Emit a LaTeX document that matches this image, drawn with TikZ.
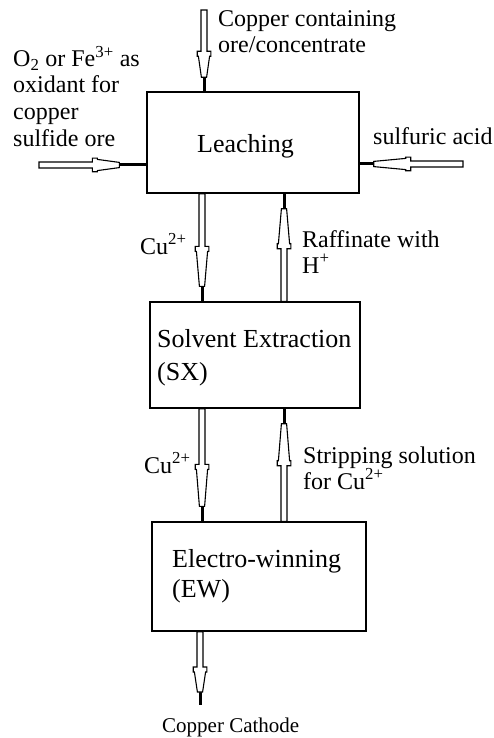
\documentclass[tikz,border=0pt]{standalone}
\usepackage{fontspec}
\setmainfont{Liberation Serif}
\usetikzlibrary{calc}
\tikzset{
  box/.style={draw, line width=1.4pt, inner sep=0pt, fill=white},
  lbl/.style={anchor=base west, inner sep=0pt, font=\fontsize{24}{26}\selectfont},
  btxt/.style={anchor=base west, inner sep=0pt, font=\fontsize{26}{30}\selectfont},
  arrline/.style={draw, line width=1.1pt, fill=white, line join=miter},
  stemline/.style={line width=3pt},
}
% hollow block arrow from #1 to #2, head length #3, stem length #4
\newcommand\harrow[4]{%
  \path let \p1=(#1), \p2=(#2),
    \n1={veclen(\x2-\x1,\y2-\y1)}, \n2={atan2(\y2-\y1,\x2-\x1)} in
    \pgfextra{\pgfmathparse{\n1}\xdef\hL{\pgfmathresult}%
              \pgfmathparse{\n2}\xdef\hA{\pgfmathresult}};
  \pgfmathsetmacro\hx{\hL-#3-#4}%
  \pgfmathsetmacro\hxa{\hx+5}%
  \pgfmathsetmacro\hy{\hL-#4}%
  \begin{scope}[shift={(#1)}, rotate=\hA, x=1pt, y=1pt]
    \draw[stemline] (\hy,0) -- (\hL,0);
    \draw[arrline] (0,3) -- (\hx,3) -- (\hx,6.8) -- (\hxa,6.8) -- (\hxa,5.6)
      -- (\hy,2.6) -- (\hy,-2.6) -- (\hxa,-5.6) -- (\hxa,-6.8) -- (\hx,-6.8)
      -- (\hx,-3) -- (0,-3) -- cycle;
  \end{scope}
}
\begin{document}
\begin{tikzpicture}[x=1pt, y=-1pt]
\useasboundingbox[fill=white] (0,0) rectangle (494,738);
% boxes
\node[box, minimum width=212pt, minimum height=101pt] (lea) at (253,142.5) {};
\node[box, minimum width=210pt, minimum height=106pt] (sx) at (255,355) {};
\node[box, minimum width=214pt, minimum height=109pt] (ew) at (259,576.5) {};
% box texts
\node[btxt] (tlea) at (197,153) {Leaching};
\node[btxt] (tsx1) at (157,347) {Solvent Extraction};
\node[btxt] (tsx2) at (157,380) {(SX)};
\node[btxt] (tew1) at (172,567) {Electro-winning};
\node[btxt] (tew2) at (172,597) {(EW)};
% labels
\node[lbl] (feed1) at (218,27) {Copper containing};
\node[lbl] (feed2) at (218,53) {ore/concentrate};
\node[lbl] (ox1) at (13,67) {O\textsubscript{2} or Fe\textsuperscript{3+} as};
\node[lbl] (ox2) at (13,93) {oxidant for};
\node[lbl] (ox3) at (13,120) {copper};
\node[lbl] (ox4) at (13,147) {sulfide ore};
\node[lbl] (acid) at (373,145) {sulfuric acid};
\node[lbl] (cu1) at (140,254) {Cu\textsuperscript{2+}};
\node[lbl] (raf1) at (302,247) {Raffinate with};
\node[lbl] (raf2) at (302,273) {H\textsuperscript{+}};
\node[lbl] (cu2) at (144,473) {Cu\textsuperscript{2+}};
\node[lbl] (str1) at (303,463) {Stripping solution};
\node[lbl] (str2) at (303,489) {for Cu\textsuperscript{2+}};
\node[lbl, font=\fontsize{21}{24}\selectfont] (cath) at (162,732) {Copper Cathode};
% arrows
\coordinate (feedtop) at (204,10);
\coordinate (oxleft) at (39,165);
\coordinate (acidright) at (463,164);
\coordinate (cx1) at (202,0);
\coordinate (cx2) at (284,0);
\coordinate (cathode) at (200,705);
\harrow{feedtop}{lea.north -| feedtop}{26}{14}
\harrow{oxleft}{lea.west |- oxleft}{27}{27}
\harrow{acidright}{lea.east |- acidright}{37}{14}
\harrow{lea.south -| cx1}{sx.north -| cx1}{40}{15}
\harrow{sx.north -| cx2}{lea.south -| cx2}{40}{15}
\harrow{sx.south -| cx1}{ew.north -| cx1}{42}{15}
\harrow{ew.north -| cx2}{sx.south -| cx2}{42}{15}
\harrow{ew.south -| cathode}{cathode}{25}{13}
\end{tikzpicture}
\end{document}
